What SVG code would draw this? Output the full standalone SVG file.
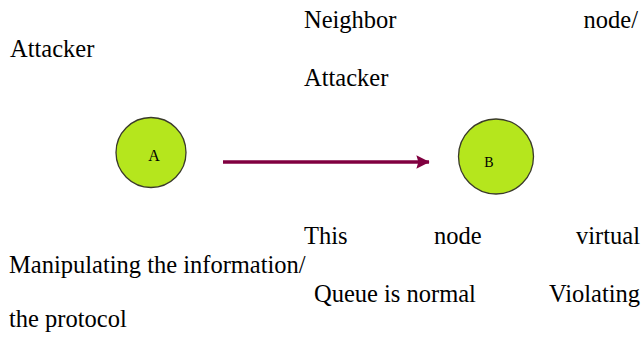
<svg xmlns="http://www.w3.org/2000/svg" width="642" height="337" viewBox="0 0 642 337">
  <style>
    text { font-family: "Liberation Serif", "Times New Roman", Times, serif; fill: #000; }
    .t { font-size: 24.5px; }
    .node { fill: #b5e61d; stroke: #3a3a2a; stroke-width: 1.3; }
    .lbl { text-anchor: middle; }
    .edge { stroke: #800040; stroke-width: 3.5; fill: none; }
  </style>
  <defs>
    <marker id="arrow" viewBox="0 0 10 10" refX="9.5" refY="5" markerWidth="4.4" markerHeight="3.8" orient="auto" markerUnits="strokeWidth">
      <path d="M0,0 L10,5 L0,10 L1.5,5 Z" fill="#800040"/>
    </marker>
  </defs>
  <rect width="642" height="337" fill="#fff"/>

  <!-- text labels -->
  <g id="labels">
    <text class="t" x="304" y="28">Neighbor</text>
    <text class="t" x="638" y="28" text-anchor="end">node/</text>
    <text class="t" x="10" y="57">Attacker</text>
    <text class="t" x="304" y="86">Attacker</text>
    <text class="t" x="304" y="244">This</text>
    <text class="t" x="434" y="244">node</text>
    <text class="t" x="640" y="244" text-anchor="end">virtual</text>
    <text class="t" x="9" y="273">Manipulating the information/</text>
    <text class="t" x="314" y="302">Queue is normal</text>
    <text class="t" x="640" y="302" text-anchor="end">Violating</text>
    <text class="t" x="9" y="327">the protocol</text>
  </g>

  <!-- connectors -->
  <g id="connectors">
    <line class="edge" x1="223" y1="162" x2="429" y2="162" marker-end="url(#arrow)"/>
  </g>

  <!-- nodes -->
  <g id="node-A">
    <circle class="node" cx="151" cy="152.5" r="35"/>
    <text class="lbl" x="154" y="161" font-size="16">A</text>
  </g>
  <g id="node-B">
    <circle class="node" cx="496" cy="156.5" r="37.5"/>
    <text class="lbl" x="489" y="167" font-size="14">B</text>
  </g>
</svg>
